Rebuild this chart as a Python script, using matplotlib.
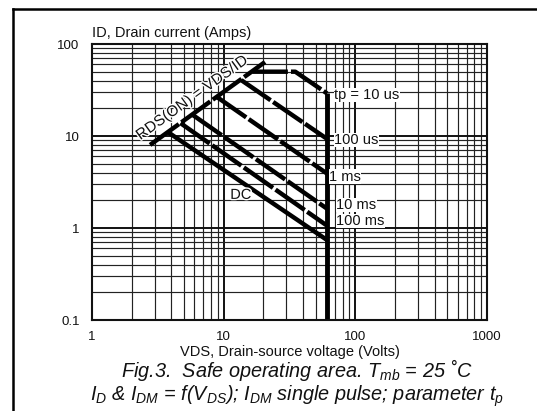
import matplotlib
matplotlib.use("Agg")
import matplotlib.pyplot as plt
import matplotlib.patheffects as pe
import numpy as np
from matplotlib.lines import Line2D
from matplotlib.ticker import LogLocator, NullFormatter

plt.rcParams['font.family'] = ['Liberation Sans', 'DejaVu Sans']
plt.rcParams['mathtext.fontset'] = 'custom'
plt.rcParams['mathtext.rm'] = 'Liberation Sans'
plt.rcParams['mathtext.it'] = 'Liberation Sans:italic'

# axis ticks
X_TICKS = [1, 10, 100, 1000]
X_TICK_LABELS = ['1', '10', '100', '1000']
Y_TICKS = [0.1, 1, 10, 100]
Y_TICK_LABELS = ['0.1', '1', '10', '100']

# on-resistance limit line (VDS, ID)
RDS_V = [2.76, 20.6]
RDS_I = [8.0, 63.7]

# max drain-source voltage limit
VDS_MAX = 61
VDS_LINE_I = [0.1, 29]

# pulse-width limit curves: (VDS points, ID points)
pulse_names = ['10us', '100us', '1ms', '10ms', '100ms', 'DC']
pulse_v = [
    [16.5, 35, 61],
    [13.6, 61],
    [8.9, 61],
    [5.8, 61],
    [4.7, 61],
    [3.78, 61],
]
pulse_i = [
    [50, 50, 29],
    [40.5, 9.3],
    [26.5, 3.9],
    [17.0, 1.62],
    [13.8, 1.06],
    [11.0, 0.74],
]

# curve labels: text, VDS, ID
curve_labels = ['tp = 10 us', '100 us', '1 ms', '10 ms', '100 ms']
label_v = [69, 69, 63.3, 71.6, 71.6]
label_i = [27.9, 9.05, 3.6, 1.78, 1.19]
DC_LABEL_POS = (13.5, 2.29)
RDS_LABEL_POS = (5.76, 25.9)

fig = plt.figure(figsize=(5.37, 4.11), dpi=100)
ax = fig.add_axes([92 / 537, 1 - 320 / 411, 395 / 537, 276 / 411])
ax.set_xscale('log')
ax.set_yscale('log')
ax.set_xlim(1, 1000)
ax.set_ylim(0.1, 100)

ax.xaxis.set_minor_locator(LogLocator(base=10, subs=np.arange(2, 10)))
ax.yaxis.set_minor_locator(LogLocator(base=10, subs=np.arange(2, 10)))
ax.xaxis.set_minor_formatter(NullFormatter())
ax.yaxis.set_minor_formatter(NullFormatter())
ax.set_xticks(X_TICKS, labels=X_TICK_LABELS)
ax.set_yticks(Y_TICKS, labels=Y_TICK_LABELS)
ax.tick_params(which='both', length=0, labelsize=9.5, colors='#111111')
ax.tick_params(axis='x', pad=8)
ax.tick_params(axis='y', pad=9)

ax.grid(which='major', color='#111111', lw=1.4)
ax.grid(which='minor', color='#222222', lw=0.85)
ax.set_axisbelow(True)
for sp in ax.spines.values():
    sp.set_linewidth(1.5)
    sp.set_color('#111111')

# limit lines
ax.plot(RDS_V, RDS_I, color='black', lw=3.2, ls=(0, (8, 0.7)), solid_capstyle='butt')
ax.plot([VDS_MAX, VDS_MAX], VDS_LINE_I, color='black', lw=3.5, solid_capstyle='butt')
for name, v, i in zip(pulse_names, pulse_v, pulse_i):
    ls = '-' if name == 'DC' else (0, (8, 0.7))
    ax.plot(v, i, color='black', lw=3.2, ls=ls, solid_capstyle='butt')

halo = [pe.withStroke(linewidth=2, foreground='white')]
for txt, v, i in zip(curve_labels, label_v, label_i):
    ax.text(v, i, txt, fontsize=10.5, ha='left', va='center', color='#111111',
            bbox=dict(facecolor='white', edgecolor='none', pad=0.3))
ax.text(*DC_LABEL_POS, 'DC', fontsize=10.5, ha='center', va='center', color='#111111',
        path_effects=halo)

# rotated on-resistance label, parallel to the line
p0 = ax.transData.transform((RDS_V[0], RDS_I[0]))
p1 = ax.transData.transform((RDS_V[1], RDS_I[1]))
angle = np.degrees(np.arctan2(p1[1] - p0[1], p1[0] - p0[0]))
ax.text(*RDS_LABEL_POS, 'RDS(ON) = VDS/ID', fontsize=11, rotation=angle,
        rotation_mode='anchor', ha='center', va='center', color='#111111',
        path_effects=halo)

# axis titles
ax.text(0, 1.04, 'ID, Drain current (Amps)', transform=ax.transAxes,
        fontsize=10.5, ha='left', va='center', color='#111111')
ax.set_xlabel('VDS, Drain-source voltage (Volts)', fontsize=10.5, labelpad=1,
              color='#111111')

# caption
fig.text(297 / 537, 1 - 370 / 411,
         r'Fig.3.  Safe operating area. $T_{mb}$ = 25 ˚C',
         fontsize=14.3, style='italic', ha='center', va='center', color='#111111')
fig.text(297 / 537, 1 - 396 / 411,
         r'$I_D$ & $I_{DM}$ = f($V_{DS}$); $I_{DM}$ single pulse; parameter $t_p$',
         fontsize=14.3, style='italic', ha='center', va='center', color='#111111')

# page frame
fig.add_artist(Line2D([13 / 537, 13 / 537], [0, 1 - 9 / 411], color='black', lw=1.8))
fig.add_artist(Line2D([13 / 537, 1], [1 - 9 / 411, 1 - 9 / 411], color='black', lw=1.8))

fig.savefig('out.png', dpi=100, facecolor='white')
